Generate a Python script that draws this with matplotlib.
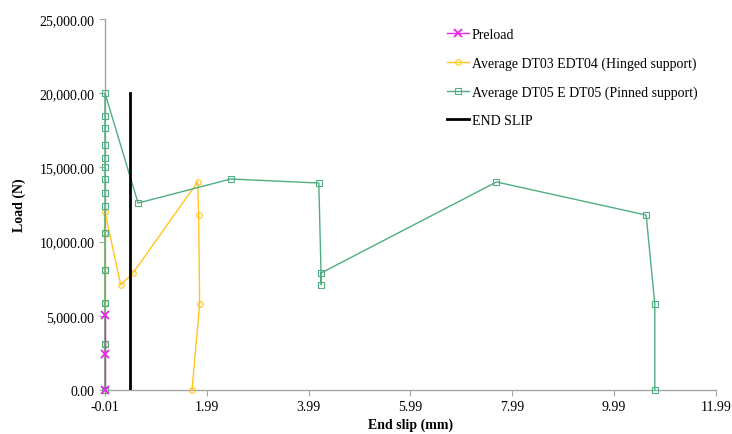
import matplotlib.pyplot as plt
from matplotlib.ticker import FuncFormatter

plt.rcParams['font.family'] = ['Liberation Serif', 'DejaVu Serif']

# data
preload_x = [-0.01, -0.01, -0.01]
preload_y = [0, 2400, 5050]

hinged_x = [-0.01, -0.01, -0.01, -0.01, -0.01, -0.01, 0.30, 0.54, 1.81, 1.83, 1.85, 1.70]
hinged_y = [0, 3100, 5860, 8090, 10580, 12000, 7080, 7880, 14020, 11790, 5800, 0]

pinned_x = [-0.01, -0.01, -0.01, -0.01, -0.01, -0.01, -0.01, -0.01, -0.01, -0.01, -0.01, -0.01,
            -0.01, -0.01, 0.64, 2.46, 4.19, 4.24, 4.23, 7.68, 10.62, 10.79, 10.79]
pinned_y = [0, 3100, 5860, 8090, 10580, 12400, 13280, 14220, 15030, 15630, 16510, 17650,
            18460, 20010, 12600, 14220, 13950, 7080, 7880, 14020, 11790, 5800, 0]

end_slip_x = [0.48, 0.48]
end_slip_y = [0, 20000]

x_ticks = [-0.01, 1.99, 3.99, 5.99, 7.99, 9.99, 11.99]
y_ticks = [0, 5000, 10000, 15000, 20000, 25000]

fig = plt.figure(figsize=(7.32, 4.35), dpi=100)
ax = fig.add_axes([0.1434, 0.101, 0.8346, 0.853])

ax.plot(preload_x, preload_y, color='#e826e8', marker='x', markersize=6, mew=1.3,
        lw=1, label='Preload', zorder=5, clip_on=False)
ax.plot(hinged_x, hinged_y, color='#ffc61a', marker='o', markersize=4, mfc='none',
        mew=0.8, lw=1, label='Average DT03 EDT04 (Hinged support)', zorder=3, clip_on=False)
ax.plot(pinned_x, pinned_y, color='#4fae80', marker='s', markersize=4, mfc='none',
        mew=0.8, lw=1, label='Average DT05 E DT05 (Pinned support)', zorder=4, clip_on=False)
ax.plot(end_slip_x, end_slip_y, color='black', lw=2, label='END SLIP', zorder=6)

ax.set_xlim(-0.01, 11.99)
ax.set_ylim(0, 25000)
ax.set_xticks(x_ticks)
ax.set_yticks(y_ticks)
ax.xaxis.set_major_formatter(FuncFormatter(lambda v, p: f'{v:.2f}'))
ax.yaxis.set_major_formatter(FuncFormatter(lambda v, p: f'{v:,.2f}'))

for s in ['top', 'right']:
    ax.spines[s].set_visible(False)
for s in ['left', 'bottom']:
    ax.spines[s].set_color('#a6a6a6')
    ax.spines[s].set_linewidth(1)
ax.tick_params(axis='both', colors='#a6a6a6', labelcolor='black', labelsize=10,
               length=4, direction='out')

ax.set_xlabel('End slip (mm)', fontsize=10, fontweight='bold', labelpad=3)
ax.set_ylabel('Load (N)', fontsize=10, fontweight='bold', labelpad=10)

ax.legend(loc='upper left', bbox_to_anchor=(0.55, 0.99), frameon=False, fontsize=10,
          labelspacing=1.1, handlelength=1.6, handletextpad=0.2, borderaxespad=0)

fig.savefig('out.png', dpi=100)
